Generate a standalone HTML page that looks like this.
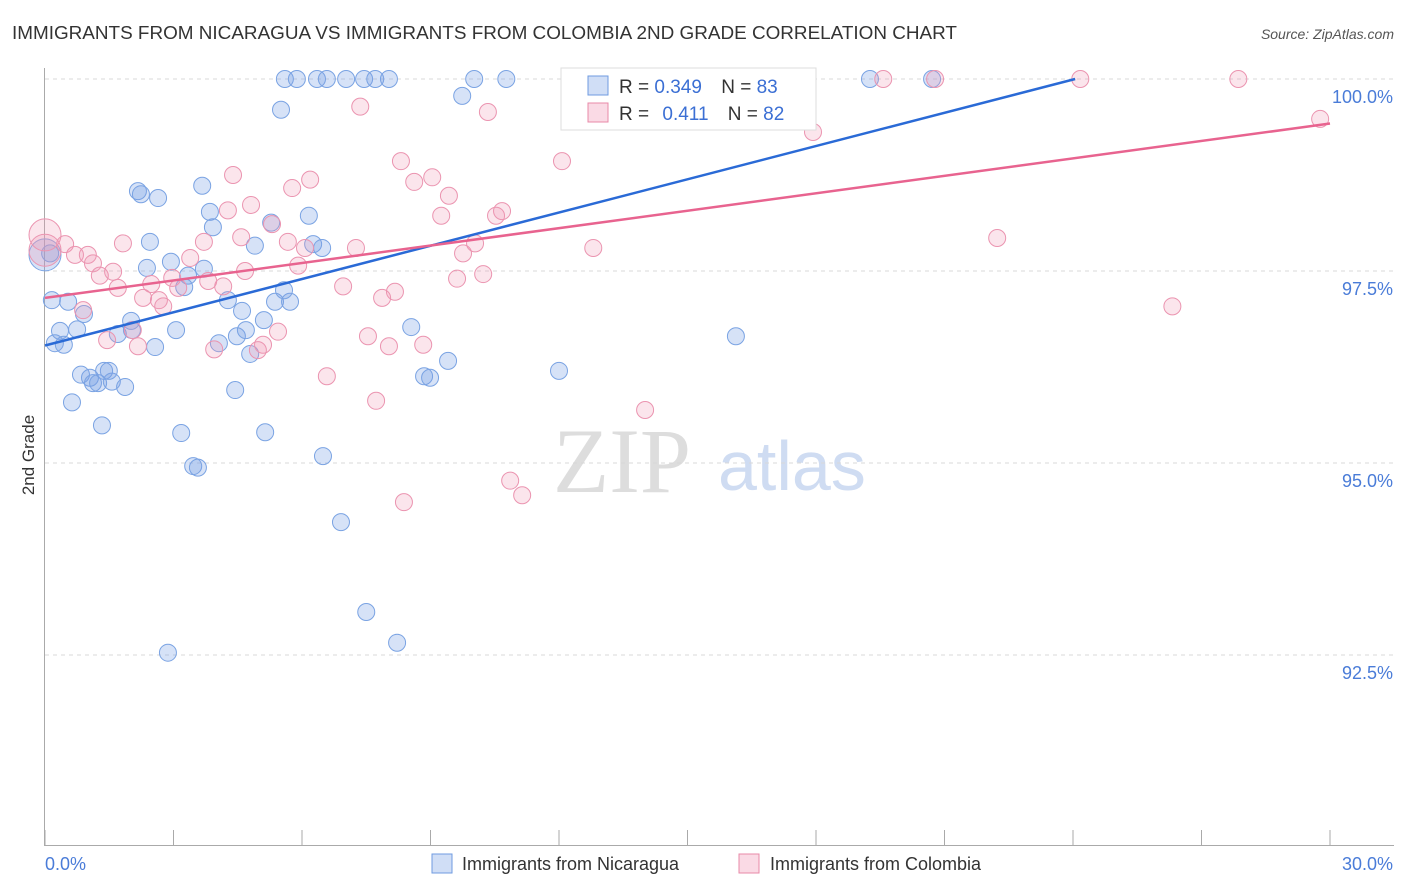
<!DOCTYPE html>
<html><head><meta charset="utf-8"><style>
body{margin:0;background:#fff;font-family:"Liberation Sans",sans-serif;}
svg{display:block}
</style></head><body>
<svg id="chart" width="1406" height="892" viewBox="0 0 1406 892">
<text x="12" y="39" font-size="18.9" fill="#333">IMMIGRANTS FROM NICARAGUA VS IMMIGRANTS FROM COLOMBIA 2ND GRADE CORRELATION CHART</text>
<text x="1394" y="39" font-size="14" fill="#555" font-style="italic" text-anchor="end">Source: ZipAtlas.com</text>
<g>
<text x="553" y="492" font-size="92" fill="#ddd" font-family="Liberation Serif, serif">ZIP</text>
<text x="718" y="490" font-size="70" fill="#cfdcf2">atlas</text>
</g>
<g id="grid"></g>
<g id="axes"></g>
<g id="marks"></g>
<text transform="translate(34,455) rotate(-90)" font-size="17" fill="#333" text-anchor="middle">2nd Grade</text>
<g>
<rect x="561" y="68" width="255" height="62" fill="#fff" stroke="#ddd"/>
<rect x="588" y="76" width="20" height="19" fill="rgba(120,160,230,0.35)" stroke="#6f9be0"/>
<text x="619" y="93" font-size="19" fill="#333">R = <tspan fill="#3b6fd4">0.349</tspan>  <tspan dx="14">N = </tspan><tspan fill="#3b6fd4">83</tspan></text>
<rect x="588" y="103" width="20" height="19" fill="rgba(240,150,180,0.35)" stroke="#e88aa8"/>
<text x="619" y="120" font-size="19" fill="#333">R = <tspan dx="8" fill="#3b6fd4">0.411</tspan>  <tspan dx="14">N = </tspan><tspan fill="#3b6fd4">82</tspan></text>
</g>
<g>
<rect x="432" y="854" width="20" height="19" fill="rgba(120,160,230,0.35)" stroke="#6f9be0"/>
<text x="462" y="870" font-size="18" fill="#333">Immigrants from Nicaragua</text>
<rect x="739" y="854" width="20" height="19" fill="rgba(240,150,180,0.35)" stroke="#e88aa8"/>
<text x="770" y="870" font-size="18" fill="#333">Immigrants from Colombia</text>
</g>
</svg>
<script>
const yTicks=[100,97.5,95,92.5];
const yTickLabels=["100.0%","97.5%","95.0%","92.5%"];
const xTickLabels=["0.0%","30.0%"];
const blueX=[5.60,5.88,6.35,6.58,7.03,7.45,7.71,8.03,10.02,10.77,19.26,20.71,9.74,5.51,2.17,2.24,2.64,3.67,3.85,3.92,6.16,5.28,2.45,4.90,6.26,6.47,2.94,2.38,3.71,3.34,3.25,4.27,4.60,5.37,5.72,5.58,0.16,0.54,0.91,0.35,0.75,2.01,1.70,3.06,5.11,4.48,4.69,4.06,4.79,0.23,0.44,2.57,8.55,16.13,9.41,0.84,1.05,1.12,1.24,1.38,1.56,1.49,1.87,8.85,8.99,12.00,4.44,0.63,1.33,3.18,5.14,3.46,3.57,6.49,6.91,7.50,8.22,2.87,0.12,2.03,0.00];
const blueY=[100,100,100,100,100,100,100,100,100,100,100,100,99.78,99.60,98.54,98.50,98.45,98.61,98.27,98.07,98.22,98.13,97.88,97.83,97.85,97.80,97.62,97.54,97.53,97.44,97.29,97.12,96.98,97.10,97.10,97.25,97.12,97.10,96.94,96.72,96.74,96.85,96.68,96.73,96.86,96.65,96.73,96.56,96.42,96.56,96.54,96.51,96.77,96.65,96.33,96.15,96.11,96.04,96.04,96.20,96.06,96.20,95.99,96.13,96.11,96.20,95.95,95.79,95.49,95.39,95.40,94.96,94.94,95.09,94.23,93.06,92.66,92.53,97.73,96.73,97.71];
const blueBig=[80];
const pinkX=[13.82,19.57,20.78,24.17,27.86,7.36,10.34,29.77,17.93,8.31,12.07,4.39,6.19,5.77,8.62,9.04,9.43,4.81,4.27,9.25,10.53,10.67,5.30,4.58,1.82,0.47,0.70,1.00,1.12,3.71,5.67,6.07,7.26,10.04,9.76,12.80,22.23,5.91,3.39,1.59,2.97,1.28,4.67,1.70,2.48,3.11,3.81,4.16,2.29,2.66,2.76,6.96,8.17,7.87,10.23,9.62,26.32,0.89,2.05,5.44,7.54,1.45,2.17,3.95,5.09,4.97,8.03,8.83,6.58,7.73,14.01,10.86,11.14,8.38,0,0];
const pinkY=[100,100,100,100,100,99.64,99.57,99.48,99.31,98.93,98.93,98.75,98.69,98.58,98.66,98.72,98.48,98.36,98.29,98.22,98.22,98.28,98.11,97.94,97.86,97.85,97.71,97.71,97.60,97.88,97.88,97.80,97.80,97.86,97.73,97.80,97.93,97.57,97.67,97.49,97.41,97.44,97.50,97.28,97.33,97.28,97.37,97.30,97.15,97.12,97.04,97.30,97.23,97.15,97.46,97.40,97.04,96.99,96.73,96.71,96.65,96.60,96.52,96.48,96.54,96.47,96.52,96.54,96.13,95.81,95.69,94.77,94.58,94.49,97.97,97.77];
const pinkBig=[74,75];
const blueTrendX=[0,24.05];
const blueTrendY=[96.53,100];
const pinkTrendX=[0,30];
const pinkTrendY=[97.15,99.42];

const NS="http://www.w3.org/2000/svg";
const xs=v=>45+v/30*1285;
const ys=v=>79+(100-v)*76.8;
function mk(tag,attrs,parent){const e=document.createElementNS(NS,tag);for(const k in attrs)e.setAttribute(k,attrs[k]);parent.appendChild(e);return e;}
const grid=document.getElementById('grid'),axes=document.getElementById('axes'),marks=document.getElementById('marks');
yTicks.forEach((t,i)=>{
  const l=mk('line',{x1:45,x2:1394,y1:ys(t),y2:ys(t),stroke:'#d8d8d8','stroke-dasharray':'4,4'},grid);
  
  
  const tx=mk('text',{x:1393,y:ys(t)+24,'font-size':18,fill:'#4a7cd8','text-anchor':'end'},axes);
  tx.textContent=yTickLabels[i];
  
  
});
const la=mk('line',{x1:44.5,x2:44.5,y1:68,y2:846,stroke:'#aaa'},axes);


const lb=mk('line',{x1:45,x2:1394,y1:845.5,y2:845.5,stroke:'#aaa'},axes);


for(let i=0;i<=10;i++){
  const t=mk('line',{x1:xs(i*3),x2:xs(i*3),y1:830,y2:846,stroke:'#aaa'},axes);
  
  
}
const x0=mk('text',{x:45,y:870,'font-size':18,fill:'#4a7cd8'},axes);x0.textContent=xTickLabels[0];


const x1=mk('text',{x:1393,y:870,'font-size':18,fill:'#4a7cd8','text-anchor':'end'},axes);x1.textContent=xTickLabels[1];



function pts(X,Y,big,fill,stroke,name){
  X.forEach((x,i)=>{
    const r=big.includes(i)?16:8.5;
    const c=mk('circle',{cx:xs(x),cy:ys(Y[i]),r:r,fill:fill,stroke:stroke,'stroke-width':1},marks);
    
    
  });
}
pts(blueX,blueY,blueBig,'rgba(120,160,230,0.3)','#7aa3e3','point-nicaragua');
pts(pinkX,pinkY,pinkBig,'rgba(240,150,180,0.25)','#eb94b0','point-colombia');
const tb=mk('line',{x1:xs(blueTrendX[0]),y1:ys(blueTrendY[0]),x2:xs(blueTrendX[1]),y2:ys(blueTrendY[1]),stroke:'#2a6ad6','stroke-width':2.5},marks);


const tp=mk('line',{x1:xs(pinkTrendX[0]),y1:ys(pinkTrendY[0]),x2:xs(pinkTrendX[1]),y2:ys(pinkTrendY[1]),stroke:'#e8638f','stroke-width':2.5},marks);


</script>
</body></html>
